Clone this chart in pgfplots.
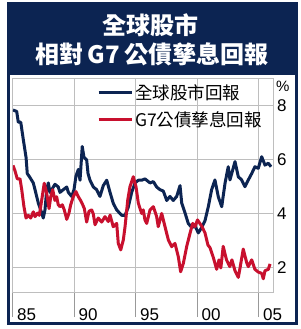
\documentclass[border=0pt]{standalone}
\usepackage{pgfplots}
\pgfplotsset{compat=1.18}
\usepackage{fontspec}
\setmainfont{Liberation Sans}
\newfontfamily\cjk{Noto Sans CJK TC}
\definecolor{navy}{RGB}{12,36,82}
\definecolor{bred}{RGB}{200,16,46}
\definecolor{gridc}{RGB}{190,190,190}
\begin{document}
\begin{tikzpicture}
\useasboundingbox (0,0) rectangle (301bp,329bp);
\fill[white] (0,0) rectangle (301bp,329bp);
\fill[navy] (6.5bp,4bp) rectangle (297.5bp,327bp);
\fill[white] (9.5bp,7bp) rectangle (294.5bp,254bp);
\node[text=white,font={\cjk\bfseries\fontsize{24bp}{28bp}\selectfont}] at (150bp,304bp) {全球股市};
\node[text=white,font={\cjk\bfseries\fontsize{24bp}{28bp}\selectfont}] at (152bp,275bp) {相對\,G7\,公債孳息回報};
\begin{axis}[
  at={(13bp,37bp)}, anchor=south west,
  width=260bp, height=213bp, scale only axis,
  xmin=1985, xmax=2006.14, ymin=1.11, ymax=9,
  axis line style={gridc, line width=1bp},
  grid=major, major grid style={gridc, line width=1bp},
  xtick={1985,1990,1995,2000,2005},
  xticklabels={85,90,95,00,05},
  ytick={2,4,6,8},
  yticklabel pos=right,
  xtick pos=left,
  tick align=outside,
  major tick length=25bp,
  xtick style={draw=gray!80, line width=1bp},
  ytick style={draw=none},
  /pgf/number format/assume math mode=true,
  ticklabel style={font=\fontsize{17bp}{20bp}\selectfont, text=black},
  xticklabel style={anchor=north west, inner sep=0pt, xshift=4bp, yshift=9bp},
  yticklabel style={anchor=west, inner sep=0pt, xshift=-21bp},
  ylabel={\%},
  ylabel style={rotate=-90, at={(rel axis cs:1,1)}, anchor=north west, inner sep=0pt, xshift=3bp, yshift=-2bp, font=\fontsize{15bp}{18bp}\selectfont},
  legend style={at={(0.323,0.985)}, anchor=north west, draw=none, fill=none,
    font={\cjk\fontsize{17.5bp}{20bp}\selectfont}, row sep=7bp, inner sep=0pt},
  legend cell align=left,
  legend image code/.code={\draw[#1] (-2bp,0bp) -- (31bp,0bp);},
  every axis plot/.append style={line width=3bp, line join=round},
]
\addplot[navy, mark=none] coordinates {
(1985.00,7.85) (1985.30,7.80) (1985.43,7.40) (1985.63,7.40) (1985.84,6.75)
(1986.06,6.10) (1986.16,5.50) (1986.38,5.35) (1986.65,5.15) (1986.79,4.90)
(1987.06,4.40) (1987.33,4.05) (1987.46,3.85) (1987.60,4.15) (1987.74,4.90)
(1987.87,5.15) (1988.01,4.80) (1988.15,4.90) (1988.41,5.10) (1988.68,5.00)
(1988.82,4.80) (1989.09,4.90) (1989.37,5.00) (1989.50,4.80) (1989.77,4.65)
(1989.96,4.90) (1990.12,5.40) (1990.31,5.65) (1990.45,5.25) (1990.63,6.50)
(1990.77,6.10) (1990.99,6.00) (1991.10,5.50) (1991.26,5.25) (1991.53,5.00)
(1991.80,4.90) (1992.07,4.65) (1992.34,5.05) (1992.62,5.25) (1992.89,4.80)
(1993.15,4.40) (1993.43,4.15) (1993.84,3.95) (1994.11,3.95) (1994.37,4.25)
(1994.65,4.80) (1994.92,5.15) (1995.19,5.25) (1995.46,5.25) (1995.73,5.30)
(1996.14,5.15) (1996.41,5.20) (1996.68,5.00) (1996.95,4.90) (1997.22,4.85)
(1997.50,4.50) (1997.76,4.65) (1998.03,4.50) (1998.31,4.65) (1998.58,5.05)
(1998.72,4.40) (1998.98,4.05) (1999.25,3.65) (1999.53,3.50) (1999.80,3.55)
(2000.07,3.30) (2000.34,3.50) (2000.61,3.75) (2000.88,4.27) (2001.15,4.90)
(2001.42,5.26) (2001.69,4.64) (2001.97,4.27) (2002.24,5.14) (2002.50,5.75)
(2002.64,5.26) (2003.05,5.94) (2003.32,5.38) (2003.59,5.26) (2003.86,5.01)
(2004.13,5.26) (2004.41,5.50) (2004.67,5.75) (2004.94,5.69) (2005.22,6.12)
(2005.49,5.81) (2005.76,5.88) (2005.98,5.75)
};
\addlegendentry{全球股市回報}
\addplot[bred, mark=none] coordinates {
(1985.00,5.80) (1985.16,5.60) (1985.35,5.30) (1985.57,5.30) (1985.71,4.90)
(1985.89,4.27) (1986.06,3.85) (1986.24,3.95) (1986.44,3.85) (1986.65,4.08)
(1986.79,3.90) (1986.98,4.03) (1987.14,3.95) (1987.33,4.50) (1987.54,5.14)
(1987.74,4.77) (1987.93,4.20) (1988.07,4.64) (1988.23,4.90) (1988.41,4.50)
(1988.55,4.64) (1988.68,4.34) (1988.82,4.27) (1989.01,4.34) (1989.17,4.15)
(1989.37,3.80) (1989.55,4.03) (1989.69,4.34) (1989.90,4.64) (1990.12,4.83)
(1990.31,4.64) (1990.50,4.50) (1990.67,4.34) (1990.80,4.20) (1990.99,3.70)
(1991.18,4.10) (1991.40,4.15) (1991.53,4.00) (1991.67,3.60) (1991.93,3.85)
(1992.21,3.70) (1992.48,3.90) (1992.75,3.72) (1992.89,3.96) (1993.15,3.53)
(1993.43,3.65) (1993.56,2.91) (1993.76,2.67) (1993.97,3.04) (1994.11,3.53)
(1994.33,4.52) (1994.51,5.01) (1994.78,5.38) (1995.00,5.01) (1995.19,4.40)
(1995.46,4.02) (1995.59,4.15) (1995.73,3.78) (1995.87,3.65) (1996.14,4.15)
(1996.41,4.27) (1996.68,3.90) (1996.81,3.53) (1997.09,4.02) (1997.36,3.53)
(1997.63,3.04) (1997.90,2.79) (1998.17,2.91) (1998.44,2.42) (1998.63,1.86)
(1998.85,2.17) (1999.12,2.79) (1999.39,3.28) (1999.61,3.65) (1999.80,3.53)
(2000.00,3.78) (2000.34,3.55) (2000.61,3.30) (2000.85,2.85) (2001.02,2.75)
(2001.28,2.40) (2001.56,1.95) (2001.75,2.30) (2001.90,2.00) (2002.09,2.80)
(2002.36,2.30) (2002.63,2.05) (2002.80,2.30) (2003.05,1.90) (2003.32,1.65)
(2003.46,2.00) (2003.72,2.70) (2004.00,2.20) (2004.13,2.05) (2004.41,2.30)
(2004.67,1.95) (2004.94,1.85) (2005.22,1.80) (2005.35,1.60) (2005.49,1.90)
(2005.76,1.95) (2005.90,2.15)
};
\addlegendentry{G7公債孳息回報}
\end{axis}
\end{tikzpicture}
\end{document}
